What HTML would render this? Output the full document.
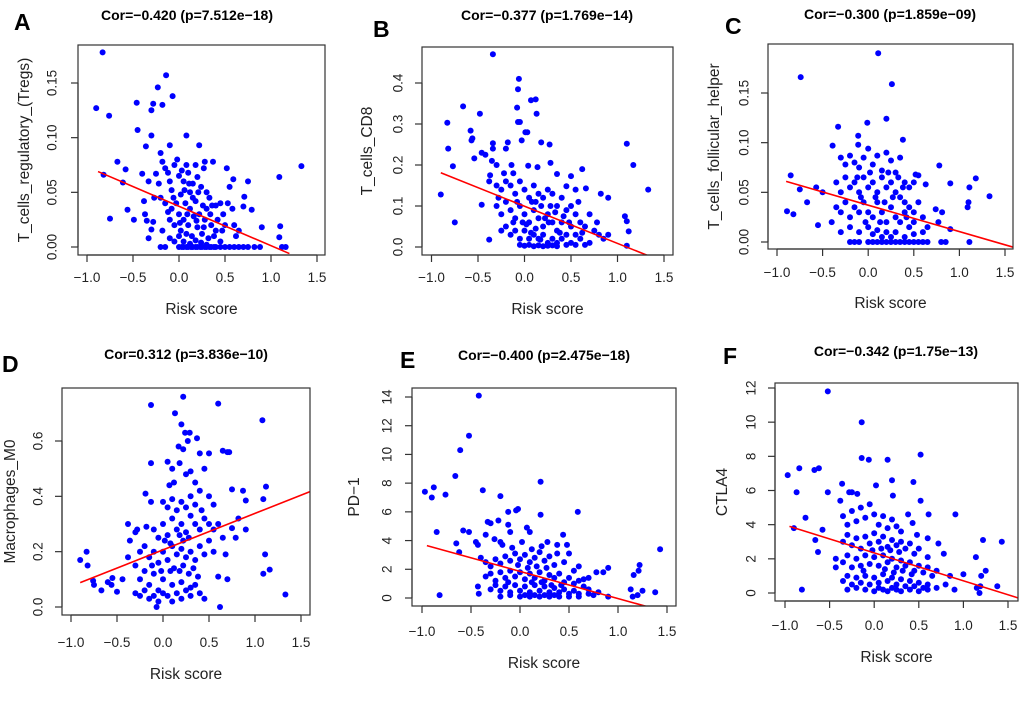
<!DOCTYPE html>
<html><head><meta charset="utf-8">
<style>
html,body{margin:0;padding:0;background:#fff;}
svg{display:block;font-family:"Liberation Sans",Arial,sans-serif;}
</style></head>
<body>
<svg id="fig" width="1020" height="703" viewBox="0 0 1020 703"></svg>
<script>
// ---------- DATA ----------
const aPts=[[-0.83,0.178],[-0.9,0.127],[-0.76,0.12],[-0.46,0.132],[-0.28,0.131],[-0.3,0.125],[-0.23,0.146],[-0.14,0.157],[-0.18,0.13],[-0.07,0.138],[-0.45,0.107],[-0.3,0.102],[0.08,0.102],[-0.1,0.093],[-0.36,0.092],[0.22,0.093],[-0.2,0.086],[-0.82,0.066],[-0.67,0.078],[-0.58,0.071],[-0.61,0.059],[-0.75,0.026],[-0.56,0.034],[-0.49,0.025],[-0.37,0.03],[-0.35,0.024],[-0.28,0.023],[1.33,0.074],[1.09,0.064],[1.1,0.019],[1.09,0.009],[1.12,0],[1.16,0],[0.9,0.018],[0.75,0.06],[0.59,0.062],[0.52,0.072],[0.71,0.046],[0.79,0.034],[0.55,0.055],[0.37,0.078],[0.28,0.078],
[-0.25,0.067],[-0.22,0.058],[-0.18,0.078],[-0.15,0.072],[-0.12,0.068],[-0.1,0.06],[-0.08,0.052],[-0.05,0.075],[-0.02,0.08],[0.0,0.065],[0.03,0.07],[0.05,0.06],[0.08,0.075],[0.1,0.068],[0.12,0.05],[0.15,0.058],[0.18,0.075],[0.2,0.064],[0.24,0.055],[0.27,0.072],[0.3,0.05],[0.33,0.045],[0.36,0.038],[0.4,0.038],[0.45,0.04],[0.48,0.03],[0.5,0.02],[0.53,0.04],[0.58,0.035],[0.6,0.02],[0.65,0.015],[0.7,0.037],[0.62,0.01],
[-0.2,0.045],[-0.15,0.04],[-0.12,0.032],[-0.1,0.025],[-0.08,0.035],[-0.05,0.02],[-0.03,0.04],[0.0,0.03],[0.02,0.015],[0.05,0.025],[0.07,0.04],[0.1,0.02],[0.12,0.035],[0.14,0.01],[0.16,0.028],[0.18,0.042],[0.2,0.018],[0.22,0.03],[0.25,0.012],[0.28,0.025],[0.3,0.035],[0.32,0.008],[0.35,0.02],[0.38,0.01],[0.42,0.025],[0.45,0.005],[-0.18,0.015],[-0.1,0.008],[-0.05,0.005],[0.0,0.01],[0.05,0.005],[0.08,0.012],[0.12,0.003],[0.18,0.006],[0.24,0.004],[0.3,0.002],
[-0.2,0],[-0.15,0],[0,0],[0.05,0],[0.1,0],[0.15,0],[0.2,0],[0.25,0],[0.3,0],[0.35,0],[0.4,0],[0.45,0],[0.5,0],[0.55,0],[0.6,0],[0.65,0],[0.7,0],[0.75,0],[0.82,0],[0.88,0],[0.03,0],[0.08,0],[0.13,0],[0.18,0],[0.23,0],[0.28,0],[0.33,0],[0.38,0],
[-0.4,0.067],[-0.33,0.06],[-0.3,0.016],[-0.27,0.045],[-0.38,0.042],[-0.33,0.008],[0.02,0.048],[0.09,0.03],[0.15,0.045],[0.21,0.05],[0.26,0.038],[0.34,0.03],[0.4,0.015],[0.47,0.015],[-0.06,0.045],[0.06,0.052],[0.11,0.058],[0.19,0.024],[0.27,0.018],[0.01,0.022]];
const aFit=[-0.88,0.069,1.2,-0.006];

const bPts=[[-0.34,0.47],[-0.06,0.41],[-0.07,0.385],[0.07,0.358],[0.12,0.36],[0.13,0.325],[-0.08,0.34],[-0.07,0.305],[-0.05,0.305],[-0.83,0.303],[-0.66,0.343],[-0.48,0.325],[-0.58,0.284],[-0.56,0.265],[-0.57,0.26],[-0.82,0.24],[-0.77,0.197],[-0.9,0.128],[-0.75,0.06],[-0.46,0.103],[-0.38,0.018],[-0.54,0.216],[-0.46,0.23],[-0.42,0.225],[-0.34,0.253],[-0.34,0.24],[-0.2,0.24],[-0.18,0.255],[-0.03,0.26],[0.01,0.28],[0.03,0.28],[0.18,0.255],[0.27,0.25],[1.1,0.252],[1.17,0.2],[1.33,0.14],[1.08,0.075],[1.1,0.063],[1.12,0.038],[1.1,0.003],[0.9,0.12],[0.82,0.13],[0.62,0.19],[0.66,0.143],[0.55,0.14],[0.45,0.148],[0.5,0.173],[0.35,0.178],[0.28,0.205],[0.14,0.195],[0.04,0.198],[-0.14,0.2],[-0.3,0.2],[-0.37,0.175],[-0.38,0.16],[-0.35,0.21],
[-0.3,0.15],[-0.25,0.14],[-0.2,0.16],[-0.15,0.15],[-0.1,0.13],[-0.05,0.16],[0.0,0.14],[0.05,0.12],[0.1,0.15],[0.15,0.13],[0.2,0.12],[0.25,0.14],[0.3,0.13],[0.35,0.1],[0.4,0.12],[0.45,0.09],[0.5,0.1],[0.55,0.08],[0.6,0.06],[0.65,0.05],[0.7,0.08],[0.75,0.04],[0.8,0.03],[0.85,0.02],[0.9,0.03],
[-0.3,0.1],[-0.25,0.08],[-0.2,0.11],[-0.15,0.09],[-0.1,0.07],[-0.05,0.1],[0.0,0.08],[0.05,0.06],[0.1,0.09],[0.15,0.07],[0.2,0.05],[0.25,0.08],[0.3,0.06],[0.35,0.04],[0.4,0.06],[0.45,0.03],[0.5,0.05],[0.55,0.03],[0.6,0.02],[0.7,0.01],
[-0.25,0.04],[-0.2,0.05],[-0.15,0.03],[-0.1,0.04],[-0.05,0.02],[0.0,0.04],[0.05,0.02],[0.1,0.03],[0.15,0.02],[0.2,0.03],[0.25,0.01],[0.3,0.02],[0.35,0.01],[0.4,0.02],[0.45,0.005],[0.5,0.01],[0.55,0.005],[0.65,0.005],
[-0.05,0.005],[0.0,0.003],[0.05,0.005],[0.1,0.002],[0.15,0.004],[0.2,0.002],[0.25,0.003],[0.3,0.004],[0.35,0.002],[0.02,0.055],[0.12,0.045],[0.22,0.07],[0.18,0.1],[0.08,0.11],[-0.12,0.06],[0.28,0.1],[0.33,0.085],[0.42,0.075],[0.38,0.035],[0.17,0.018],[0.07,0.035],[-0.02,0.06],[-0.28,0.12],[-0.22,0.18],[-0.12,0.18],[-0.08,0.11],[0.12,0.11],[0.26,0.06],[0.48,0.06],[0.58,0.11],[0.62,0.035],[0.78,0.06]];
const bFit=[-0.9,0.181,1.35,-0.023];

const cPts=[[0.11,0.19],[-0.74,0.166],[0.26,0.159],[0.2,0.124],[-0.33,0.116],[-0.01,0.12],[0.38,0.103],[-0.11,0.107],[-0.11,0.098],[-0.39,0.097],[-0.85,0.067],[-0.89,0.031],[-0.82,0.028],[-0.75,0.053],[-0.67,0.04],[-0.57,0.055],[-0.55,0.017],[-0.5,0.05],[-0.4,0.02],[1.33,0.046],[1.18,0.064],[1.11,0.055],[1.1,0.04],[1.09,0.035],[1.11,0],[0.9,0.059],[0.78,0.077],[0.77,0.02],[0.9,0.013],[0.81,0.03],[0.74,0.033],[0.63,0.058],[0.55,0.067],[0.52,0.068],
[-0.3,0.085],[-0.25,0.078],[-0.2,0.087],[-0.15,0.08],[-0.1,0.075],[-0.05,0.085],[0.0,0.094],[0.05,0.078],[0.1,0.087],[0.15,0.072],[0.2,0.09],[0.25,0.082],[0.3,0.07],[0.35,0.085],[0.4,0.06],[0.45,0.055],[0.5,0.06],
[-0.35,0.06],[-0.3,0.05],[-0.25,0.065],[-0.2,0.055],[-0.15,0.06],[-0.1,0.05],[-0.05,0.065],[0.0,0.055],[0.05,0.06],[0.1,0.05],[0.15,0.065],[0.2,0.055],[0.25,0.06],[0.3,0.05],[0.35,0.045],[0.4,0.04],[0.45,0.035],[0.5,0.03],[0.55,0.04],[0.6,0.025],[0.65,0.015],
[-0.35,0.035],[-0.3,0.03],[-0.25,0.04],[-0.2,0.025],[-0.15,0.035],[-0.1,0.03],[-0.05,0.04],[0.0,0.03],[0.05,0.025],[0.1,0.04],[0.15,0.03],[0.2,0.02],[0.25,0.035],[0.3,0.025],[0.35,0.02],[0.4,0.03],[0.45,0.015],[0.5,0.02],
[-0.3,0.01],[-0.2,0.015],[-0.1,0.01],[0.0,0.015],[0.05,0.008],[0.1,0.012],[0.15,0.005],[0.2,0.01],[0.25,0.005],[0.3,0.01],[0.4,0.005],[0.5,0.008],[0.6,0.01],
[-0.2,0],[-0.15,0],[-0.1,0],[0,0],[0.05,0],[0.1,0],[0.15,0],[0.2,0],[0.25,0],[0.3,0],[0.35,0],[0.4,0],[0.45,0],[0.5,0],[0.55,0],[0.6,0],[0.65,0],[0.8,0],[0.85,0],
[0.02,0.07],[0.08,0.045],[0.13,0.02],[0.18,0.04],[0.22,0.07],[0.27,0.045],[-0.03,0.02],[-0.08,0.045],[-0.12,0.065],[0.33,0.065],[0.38,0.055],[0.42,0.025]];
const cFit=[-0.9,0.061,1.62,-0.006];

const dPts=[[0.22,0.76],[-0.13,0.73],[0.6,0.735],[1.08,0.675],[0.13,0.7],[0.2,0.66],[0.24,0.63],[0.29,0.63],[0.27,0.6],[0.37,0.61],[0.17,0.58],[0.22,0.57],[0.65,0.565],[0.7,0.56],[0.72,0.56],[-0.13,0.52],[0.05,0.525],[0.5,0.555],[0.4,0.555],[1.12,0.435],[1.09,0.39],[0.9,0.385],[0.87,0.42],[0.75,0.425],[0.82,0.32],[0.9,0.28],[0.79,0.25],[0.75,0.285],[1.11,0.19],[1.16,0.135],[1.09,0.12],[1.33,0.045],[0.62,0.0],[-0.9,0.17],[-0.83,0.2],[-0.82,0.15],[-0.76,0.095],[-0.75,0.08],[-0.67,0.06],[-0.6,0.09],[-0.56,0.08],[-0.55,0.105],[-0.5,0.055],[-0.44,0.1],[-0.38,0.3],[-0.38,0.18],[-0.36,0.24],[-0.3,0.27],[-0.28,0.28],[-0.18,0.29],[-0.19,0.41],[-0.13,0.38],[-0.07,0.0],[0.0,0.38],[0.07,0.44],
[0.1,0.5],[0.12,0.45],[0.18,0.52],[0.25,0.48],[0.3,0.49],[0.35,0.45],[0.4,0.42],[0.45,0.5],[0.5,0.4],[0.55,0.37],[0.6,0.3],[0.65,0.25],[0.68,0.19],[0.7,0.1],[0.6,0.11],[0.55,0.2],
[-0.3,0.15],[-0.25,0.1],[-0.2,0.13],[-0.15,0.08],[-0.1,0.12],[-0.05,0.06],[0.0,0.1],[0.05,0.04],[0.1,0.08],[0.15,0.05],[0.2,0.09],[0.25,0.06],[0.3,0.04],[0.35,0.08],[0.4,0.05],[0.45,0.03],
[-0.3,0.05],[-0.25,0.04],[-0.2,0.06],[-0.15,0.03],[-0.1,0.04],[-0.05,0.02],[0.0,0.05],[0.1,0.02],[0.2,0.03],[0.3,0.07],
[-0.25,0.2],[-0.2,0.22],[-0.15,0.18],[-0.1,0.2],[-0.05,0.16],[0.0,0.2],[0.05,0.17],[0.1,0.22],[0.15,0.19],[0.2,0.21],[0.25,0.18],[0.3,0.2],[0.35,0.17],[0.4,0.22],[0.45,0.19],[0.5,0.24],
[-0.1,0.28],[-0.05,0.25],[0.0,0.3],[0.05,0.26],[0.1,0.32],[0.15,0.28],[0.2,0.3],[0.25,0.27],[0.3,0.33],[0.35,0.3],[0.4,0.28],[0.45,0.32],[0.5,0.3],[0.55,0.28],
[0.05,0.36],[0.1,0.39],[0.15,0.35],[0.2,0.38],[0.25,0.36],[0.3,0.4],[0.35,0.37],[0.42,0.35],[0.12,0.14],[0.18,0.13],[0.22,0.15],[0.28,0.12],[0.33,0.14],[0.38,0.11],[0.08,0.13],[-0.02,0.13],[-0.12,0.15],[0.02,0.24],[0.08,0.23],[0.22,0.24],[0.28,0.25],[0.18,0.26]];
const dFit=[-0.9,0.088,1.62,0.42];

const ePts=[[-0.42,14.1],[-0.52,11.3],[-0.61,10.3],[-0.66,8.5],[0.21,8.1],[-0.97,7.4],[-0.88,7.7],[-0.9,7.0],[-0.76,7.2],[-0.38,7.5],[-0.2,7.1],[0.59,6.0],[-0.12,6.0],[-0.04,6.1],[-0.02,6.2],[0.21,5.8],[-0.58,4.7],[-0.52,4.6],[-0.85,4.6],[-0.65,3.8],[-0.62,3.2],[-0.82,0.2],[1.43,3.4],[1.22,2.3],[1.21,1.9],[1.16,1.6],[1.13,0.6],[1.25,0.5],[1.38,0.4],[1.15,0.1],[1.2,0.2],[0.9,2.1],[0.85,1.8],[0.78,1.8],[0.7,1.4],[0.65,1.3],[0.44,4.4],[0.48,3.7],[0.5,3.1],[0.38,3.1],[0.38,3.7],[-0.33,5.3],[-0.3,5.2],[-0.22,5.4],[-0.12,5.1],[-0.1,4.6],[0.07,4.9],[0.1,4.6],[-0.45,3.9],[-0.43,3.7],[-0.35,4.4],[-0.26,4.1],[-0.2,3.9],[-0.18,3.7],[-0.43,0.8],[-0.42,0.3],
[-0.4,2.8],[-0.35,2.5],[-0.3,2.2],[-0.25,2.7],[-0.2,2.4],[-0.15,2.9],[-0.1,2.6],[-0.05,3.1],[0.0,2.7],[0.05,3.0],[0.1,2.5],[0.15,2.8],[0.2,3.2],[0.25,2.6],[0.3,2.9],[0.35,2.3],[0.45,2.5],[0.55,1.9],[0.6,2.2],
[-0.35,1.5],[-0.3,1.7],[-0.25,1.2],[-0.2,1.8],[-0.15,1.4],[-0.1,1.9],[-0.05,1.5],[0.0,1.8],[0.05,1.3],[0.1,1.7],[0.15,1.4],[0.2,1.8],[0.25,1.2],[0.3,1.6],[0.35,1.4],[0.4,1.7],[0.45,1.1],[0.5,1.4],[0.55,1.0],[0.6,1.2],[0.65,0.8],[0.7,0.6],
[-0.3,0.6],[-0.25,0.9],[-0.2,0.5],[-0.15,0.8],[-0.1,0.4],[-0.05,0.9],[0.0,0.5],[0.05,0.8],[0.1,0.4],[0.15,0.9],[0.2,0.5],[0.25,0.8],[0.3,0.4],[0.35,0.7],[0.4,0.4],[0.45,0.6],[0.5,0.3],[0.55,0.5],[0.6,0.3],[0.7,0.3],[0.75,0.2],[0.8,0.4],[0.9,0.1],
[-0.2,0.1],[-0.1,0.2],[0.0,0.1],[0.05,0.2],[0.1,0.1],[0.15,0.2],[0.2,0.1],[0.25,0.2],[0.3,0.1],[0.35,0.2],[0.4,0.1],[0.5,0.1],[0.6,0.1],
[-0.08,3.5],[0.02,3.9],[0.12,3.4],[0.22,3.6],[0.28,3.9],[0.17,2.2],[0.08,2.1],[-0.02,2.3],[0.27,2.1],[0.32,0.9],[0.12,1.1],[-0.12,1.1],[0.22,1.1],[0.42,0.9]];
const eFit=[-0.95,3.65,1.35,-0.7];

const fPts=[[-0.52,11.8],[-0.14,10.0],[-0.14,7.9],[-0.06,7.8],[0.15,7.8],[0.52,8.1],[-0.62,7.3],[-0.67,7.2],[-0.84,7.3],[-0.97,6.9],[-0.87,5.9],[-0.52,5.9],[-0.36,6.4],[-0.38,5.4],[-0.28,5.9],[-0.25,5.9],[-0.19,5.8],[0.2,6.6],[0.02,6.3],[0.44,6.5],[0.21,5.7],[0.52,5.4],[0.91,4.6],[0.61,4.6],[0.38,4.6],[-0.77,4.4],[-0.9,3.8],[-0.58,3.7],[-0.66,3.1],[-0.63,2.4],[-0.81,0.2],[-0.43,1.5],[-0.43,2.0],[1.43,3.0],[1.22,3.1],[1.25,1.3],[1.2,1.0],[1.14,2.1],[1.19,0.4],[1.18,0.0],[1.38,0.4],[1.15,0.3],[1.0,1.1],[0.85,1.0],[0.78,2.3],[0.72,2.9],[0.6,3.2],[0.6,2.1],[0.48,3.4],[0.43,4.1],
[-0.35,4.5],[-0.3,4.0],[-0.25,4.8],[-0.2,4.2],[-0.15,5.0],[-0.1,4.4],[-0.05,5.2],[0.0,4.6],[0.05,4.0],[0.1,4.5],[0.15,3.8],[0.2,4.3],[0.25,3.9],[0.3,3.6],
[-0.35,3.0],[-0.3,3.4],[-0.25,2.8],[-0.2,3.2],[-0.15,2.6],[-0.1,3.3],[-0.05,2.9],[0.0,3.5],[0.05,3.0],[0.1,3.3],[0.15,2.7],[0.2,3.1],[0.25,2.8],[0.3,3.0],[0.35,2.6],[0.4,2.9],[0.45,2.3],[0.5,2.6],
[-0.35,1.8],[-0.3,2.2],[-0.25,1.5],[-0.2,2.0],[-0.15,1.6],[-0.1,2.2],[-0.05,1.7],[0.0,2.1],[0.05,1.6],[0.1,2.2],[0.15,1.8],[0.2,2.0],[0.25,1.5],[0.3,1.9],[0.35,1.6],[0.4,1.8],[0.45,1.3],[0.5,1.6],[0.55,1.2],[0.6,1.5],[0.65,1.0],[0.7,1.3],
[-0.35,0.7],[-0.3,1.0],[-0.25,0.5],[-0.2,0.9],[-0.15,0.6],[-0.1,1.0],[-0.05,0.5],[0.0,0.9],[0.05,0.6],[0.1,1.1],[0.15,0.7],[0.2,0.9],[0.25,0.5],[0.3,0.8],[0.35,0.4],[0.4,0.7],[0.45,0.4],[0.5,0.6],[0.55,0.3],[0.6,0.5],[0.7,0.3],[0.8,0.5],
[-0.3,0.2],[-0.2,0.3],[-0.1,0.2],[0.0,0.1],[0.05,0.3],[0.1,0.2],[0.15,0.1],[0.2,0.3],[0.25,0.2],[0.3,0.1],[0.4,0.2],[0.5,0.1],[0.6,0.2],[0.9,0.2],
[0.12,1.4],[0.22,1.2],[0.28,2.4],[0.18,2.5],[0.08,2.6],[-0.02,2.5],[-0.12,1.3],[0.32,1.3],[0.42,1.1]];
const fFit=[-0.95,3.9,1.62,-0.3];

const xTicks=[-1.0,-0.5,0.0,0.5,1.0,1.5];
const xTickLabels=["\u22121.0","\u22120.5","0.0","0.5","1.0","1.5"];
const yTicksA=[0,0.05,0.10,0.15], yLabelsA=["0.00","0.05","0.10","0.15"];
const yTicksB=[0,0.1,0.2,0.3,0.4], yLabelsB=["0.0","0.1","0.2","0.3","0.4"];
const yTicksC=[0,0.05,0.10,0.15], yLabelsC=["0.00","0.05","0.10","0.15"];
const yTicksD=[0,0.2,0.4,0.6], yLabelsD=["0.0","0.2","0.4","0.6"];
const yTicksE=[0,2,4,6,8,10,12,14], yLabelsE=["0","2","4","6","8","10","12","14"];
const yTicksF=[0,2,4,6,8,10,12], yLabelsF=["0","2","4","6","8","10","12"];

// ---------- LAYOUT ----------
const panels=[
 {id:'a',letter:'A',lx:14,ly:30,pts:aPts,fit:aFit,yt:yTicksA,yl:yLabelsA,box:[78,45,325,255],xc:[87,317],yc:[0,247,0.15,83],tlx:53,ylx:25,ylab:'T_cells_regulatory_(Tregs)',title:'Cor=\u22120.420 (p=7.512e\u221218)',tx:187,ty:20,xly:314,xty:282},
 {id:'b',letter:'B',lx:373,ly:37,pts:bPts,fit:bFit,yt:yTicksB,yl:yLabelsB,box:[422,47,673,255],xc:[431.5,664],yc:[0,247,0.4,83],tlx:399,ylx:368,ylab:'T_cells_CD8',title:'Cor=\u22120.377 (p=1.769e\u221214)',tx:547,ty:20,xly:314,xty:282},
 {id:'c',letter:'C',lx:725,ly:34,pts:cPts,fit:cFit,yt:yTicksC,yl:yLabelsC,box:[768,44,1013,249],xc:[777,1005],yc:[0,242,0.15,93],tlx:745,ylx:715,ylab:'T_cells_follicular_helper',title:'Cor=\u22120.300 (p=1.859e\u221209)',tx:890,ty:19,xly:308,xty:277},
 {id:'d',letter:'D',lx:2,ly:372,pts:dPts,fit:dFit,yt:yTicksD,yl:yLabelsD,box:[62,388,310,615],xc:[71,301],yc:[0,607,0.6,441],tlx:39,ylx:11,ylab:'Macrophages_M0',title:'Cor=0.312 (p=3.836e\u221210)',tx:186,ty:359,xly:679,xty:647},
 {id:'e',letter:'E',lx:400,ly:368,pts:ePts,fit:eFit,yt:yTicksE,yl:yLabelsE,box:[412,388,676,606],xc:[422,667],yc:[0,598,14,397],tlx:388,ylx:355,ylab:'PD\u22121',title:'Cor=\u22120.400 (p=2.475e\u221218)',tx:544,ty:360,xly:668,xty:636},
 {id:'f',letter:'F',lx:723,ly:364,pts:fPts,fit:fFit,yt:yTicksF,yl:yLabelsF,box:[775,383,1018,601],xc:[785,1008],yc:[0,593,12,388],tlx:752,ylx:723,ylab:'CTLA4',title:'Cor=\u22120.342 (p=1.75e\u221213)',tx:896,ty:356,xly:662,xty:630}
];

const NS='http://www.w3.org/2000/svg';
const svg=document.getElementById('fig');
function mk(tag,attrs,parent,text){const e=document.createElementNS(NS,tag);for(const k in attrs)e.setAttribute(k,attrs[k]);if(text!==undefined)e.textContent=text;parent.appendChild(e);return e;}

const defs=mk('defs',{},svg);
panels.forEach(p=>{
  const g=mk('g',{},svg);
  
  
  const [l,t,r,b]=p.box;
  const sx=v=>p.xc[0]+(v+1)/2.5*(p.xc[1]-p.xc[0]);
  const sy=v=>p.yc[1]+(v-p.yc[0])/(p.yc[2]-p.yc[0])*(p.yc[3]-p.yc[1]);
  const cp=mk('clipPath',{id:'clip-'+p.id},defs);
  mk('rect',{x:l,y:t,width:r-l,height:b-t},cp);

  const lab=mk('text',{x:p.lx,y:p.ly,'font-size':23,'font-weight':'bold',fill:'#000'},g,p.letter);
  
  
  const ti=mk('text',{x:p.tx,y:p.ty,'font-size':14,'font-weight':'bold','text-anchor':'middle',fill:'#000'},g,p.title);
  
  

  const pg=mk('g',{fill:'#0000ff'},g);
  
  
  p.pts.forEach(pt=>{
    const c=mk('circle',{cx:sx(pt[0]).toFixed(1),cy:sy(pt[1]).toFixed(1),r:3.0},pg);
    
    
  });
  const fl=mk('line',{x1:sx(p.fit[0]),y1:sy(p.fit[1]),x2:sx(p.fit[2]),y2:sy(p.fit[3]),stroke:'#ff0000','stroke-width':1.6,'clip-path':'url(#clip-'+p.id+')'},g);
  
  

  const bx=mk('rect',{x:l,y:t,width:r-l,height:b-t,fill:'none',stroke:'#333','stroke-width':1.2},g);
  
  

  const xa=mk('g',{},g);
  
  
  mk('line',{x1:sx(xTicks[0]),y1:b,x2:sx(xTicks[xTicks.length-1]),y2:b,stroke:'#333','stroke-width':1.2},xa);
  xTicks.forEach((v,i)=>{
    mk('line',{x1:sx(v),y1:b,x2:sx(v),y2:b+7,stroke:'#333','stroke-width':1.2},xa);
    const tl=mk('text',{x:sx(v),y:p.xty,'font-size':13.5,'text-anchor':'middle',fill:'#222'},xa,xTickLabels[i]);
    
    
  });
  const xl=mk('text',{x:(l+r)/2,y:p.xly,'font-size':15.5,'text-anchor':'middle',fill:'#222'},g,'Risk score');
  
  

  const ya=mk('g',{},g);
  
  
  mk('line',{x1:l,y1:sy(p.yt[0]),x2:l,y2:sy(p.yt[p.yt.length-1]),stroke:'#333','stroke-width':1.2},ya);
  p.yt.forEach((v,i)=>{
    mk('line',{x1:l-7,y1:sy(v),x2:l,y2:sy(v),stroke:'#333','stroke-width':1.2},ya);
    const tl=mk('text',{x:p.tlx,y:sy(v),'font-size':13.5,'text-anchor':'middle',fill:'#222',transform:'rotate(-90 '+p.tlx+' '+sy(v)+')','dominant-baseline':'middle'},ya,p.yl[i]);
    
    
  });
  const cy=(t+b)/2;
  const yl=mk('text',{x:p.ylx,y:cy,'font-size':15.5,'text-anchor':'middle','dominant-baseline':'middle',fill:'#222',transform:'rotate(-90 '+p.ylx+' '+cy+')'},g,p.ylab);
  
  
});
</script>
</body></html>
